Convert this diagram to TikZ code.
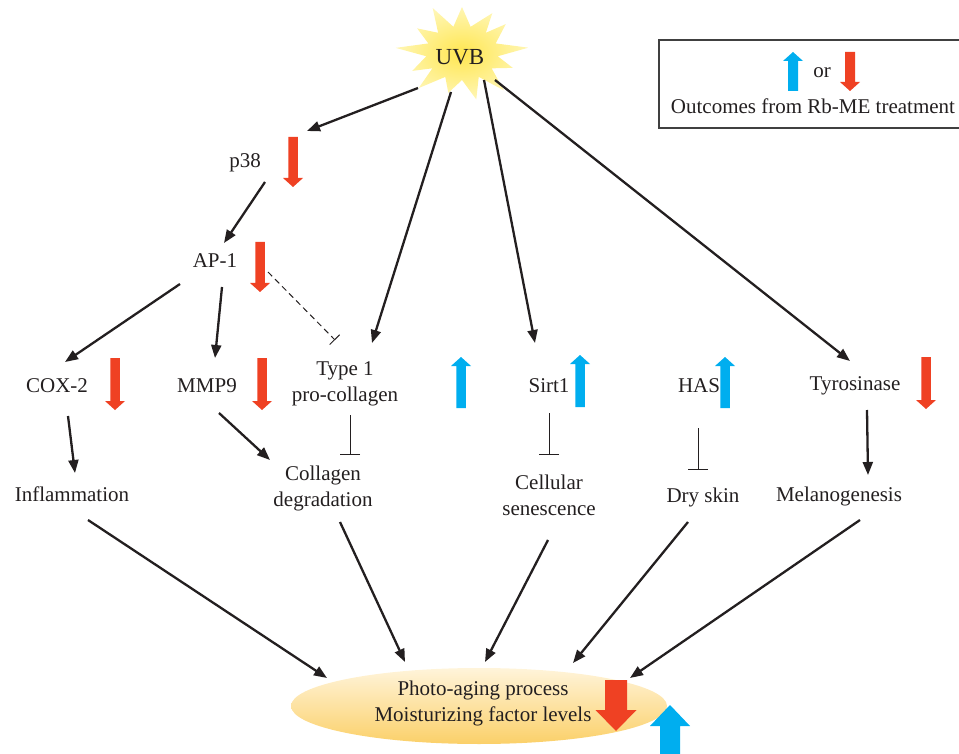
\documentclass[tikz,border=0pt]{standalone}
\usepackage{fontspec}
\setmainfont{Liberation Serif}
\usetikzlibrary{arrows.meta,shapes.geometric}
\definecolor{ink}{RGB}{35,31,32}
\definecolor{rbred}{RGB}{239,65,35}
\definecolor{rbblue}{RGB}{0,174,239}
\definecolor{sunin}{RGB}{255,230,80}
\definecolor{sunout}{RGB}{255,246,180}
\definecolor{lenstop}{RGB}{255,244,218}
\definecolor{lensbot}{RGB}{251,208,105}
% colour, x, y of tail, y of tip, shaft half width, head half width, y of head base
\newcommand{\fatarrow}[7]{\fill[#1] (#2-#5,#3)--(#2+#5,#3)--(#2+#5,#7)--(#2+#6,#7)--(#2,#4)--(#2-#6,#7)--(#2-#5,#7)--cycle;}

\begin{document}
\begin{tikzpicture}[x=1pt,y=-1pt,
  lbl/.style={font=\fontsize{21}{26}\selectfont,text=ink,align=center,inner sep=2pt},
  arr/.style={draw=ink,line width=2.3pt,-{Triangle[length=13pt,width=10pt]}},
  inh/.style={draw=ink,line width=1pt,-{Bar[width=20pt]}},
  dinh/.style={draw=ink,line width=1pt,dash pattern=on 6pt off 4pt,-{Bar[width=14pt]}}]
\path[use as bounding box] (0,0) rectangle (959,754);

\node[ellipse,minimum width=376pt,minimum height=76pt,top color=lenstop,bottom color=lensbot,lbl] (lens) at (479,706) {\phantom{x}};
\node[lbl] (lenstxt) at (483,703) {Photo-aging process\\Moisturizing factor levels};
% sun burst
\shade[inner color=sunin,outer color=sunout] plot[samples at={0,...,25},variable=\k] ({462+(mod(\k,2)==0 ? 60+7*sin(\k*77) : 36)*cos(90+\k*360/26)},{53-(mod(\k,2)==0 ? 46+5*sin(\k*53) : 27)*sin(90+\k*360/26)}) -- cycle;
\node[lbl,font=\fontsize{23}{26}\selectfont] (uvb) at (460,57) {UVB};

\node[lbl] (p38) at (245,163) {p38};
\node[lbl] (ap1) at (215,261) {AP-1};
\node[lbl] (cox) at (57,386) {COX-2};
\node[lbl] (mmp) at (207,386) {MMP9};
\node[lbl] (type1) at (345,384) {Type 1\\pro-collagen};
\node[lbl] (sirt) at (549,386) {Sirt1};
\node[lbl] (has) at (699,386) {HAS};
\node[lbl] (tyr) at (855,386) {Tyrosinase};
\node[lbl] (infl) at (72,494) {Inflammation};
\node[lbl] (coll) at (323,488) {Collagen\\degradation};
\node[lbl] (cell) at (549,495) {Cellular\\senescence};
\node[lbl] (dry) at (703,497) {Dry skin};
\node[lbl] (mel) at (839,496) {Melanogenesis};

\draw[arr] ([shift={(-42,31)}]uvb.center) -- ([shift={(62,-32)}]p38.center);
\draw[arr] ([shift={(-9,35)}]uvb.center) -- ([shift={(27,-41)}]type1.center);
\draw[arr] ([shift={(24,23)}]uvb.center) -- ([shift={(-14,-43)}]sirt.center);
\draw[arr] ([shift={(35,23)}]uvb.center) -- ([shift={(-5,-25)}]tyr.center);
\draw[arr] ([shift={(20,19)}]p38.center) -- ([shift={(9,-18)}]ap1.center);
\draw[arr] ([shift={(-35,23)}]ap1.center) -- ([shift={(8,-24)}]cox.center);
\draw[arr] ([shift={(7,26)}]ap1.center) -- ([shift={(8,-28)}]mmp.center);
\draw[dinh] ([shift={(53,11)}]ap1.center) -- ([shift={(-10,-44)}]type1.center);
\draw[arr] ([shift={(11,30)}]cox.center) -- ([shift={(3,-21)}]infl.center);
\draw[arr] ([shift={(12,27)}]mmp.center) -- ([shift={(-53,-28)}]coll.center);
\draw[inh] ([shift={(5,31)}]type1.center) -- ([shift={(27,-33)}]coll.center);
\draw[inh] ([shift={(0,27)}]sirt.center) -- ([shift={(0,-40)}]cell.center);
\draw[inh] ([shift={(-1,42)}]has.center) -- ([shift={(-5,-27)}]dry.center);
\draw[arr] ([shift={(12,24)}]tyr.center) -- ([shift={(29,-21)}]mel.center);
\draw[arr] ([shift={(16,26)}]infl.center) -- ([shift={(-152,-28)}]lens.center);
\draw[arr] ([shift={(17,34)}]coll.center) -- ([shift={(-74,-44)}]lens.center);
\draw[arr] ([shift={(-1,45)}]cell.center) -- ([shift={(6,-44)}]lens.center);
\draw[arr] ([shift={(-15,25)}]dry.center) -- ([shift={(94,-43)}]lens.center);
\draw[arr] ([shift={(21,24)}]mel.center) -- ([shift={(151,-28)}]lens.center);

% outcome arrows
\fatarrow{rbred}{293}{137}{187}{4.75}{10}{178}
\fatarrow{rbred}{260}{242}{292}{4.75}{10}{283}
\fatarrow{rbred}{115}{358}{410}{4.75}{10}{401}
\fatarrow{rbred}{262}{358}{410}{4.75}{10}{401}
\fatarrow{rbblue}{461}{408}{357}{4.75}{10}{366}
\fatarrow{rbblue}{580}{407}{355}{4.75}{10}{364}
\fatarrow{rbblue}{725}{408}{357}{4.75}{10}{366}
\fatarrow{rbred}{926}{357}{409}{4.75}{10}{400}
\fatarrow{rbred}{616}{680}{731}{11}{20.5}{710}
\fatarrow{rbblue}{670}{760}{705}{10}{20}{726}

% legend
\draw[line width=1.2pt,black!75] (659,40) rectangle (975,128);
\fatarrow{rbblue}{793}{91}{52}{5}{10}{61}
\fatarrow{rbred}{850}{52}{91}{5}{10}{82}
\node[lbl] (legor) at (822,73) {or};
\node[lbl] (legtxt) at (813,106) {Outcomes from Rb-ME treatment};
\end{tikzpicture}
\end{document}
